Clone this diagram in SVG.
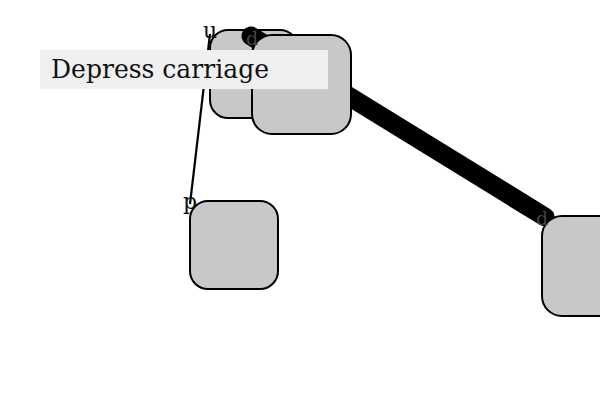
<svg xmlns="http://www.w3.org/2000/svg" width="600" height="400" viewBox="0 0 600 400">
<style>
.node{fill:#c8c8c8;stroke:#000;stroke-width:2}
.lbl{font-family:"DejaVu Serif","Liberation Serif",serif;font-size:22px;text-anchor:middle;fill:#111}
.elbl{font-family:"DejaVu Serif","Liberation Serif",serif;font-size:19px;text-anchor:middle;fill:#444}
</style>
<rect width="600" height="400" fill="#fff"/>
<g id="node-a"><rect class="node" x="210" y="30" width="88" height="88" rx="18"/></g>
<g id="connectors">
<line x1="210" y1="34" x2="190" y2="204" stroke="#000" stroke-width="2.2"/>
<line x1="251" y1="36" x2="545" y2="217" stroke="#000" stroke-width="19" stroke-linecap="round"/>
</g>
<g id="node-b"><rect class="node" x="252" y="35" width="99" height="99" rx="20"/></g>
<g id="node-c"><rect class="node" x="190" y="201" width="88" height="88" rx="18"/></g>
<g id="node-d"><rect class="node" x="542" y="216" width="100" height="100" rx="20"/></g>
<g id="labels">
<text class="lbl" x="210" y="38">u</text>
<text class="lbl" x="190" y="209">p</text>
<text class="elbl" x="252" y="45">d</text>
<text class="elbl" x="542" y="225">d</text>
</g>
<g id="tooltip">
<rect x="40" y="50" width="288" height="39" fill="#f0f0f0"/>
<text x="51" y="78" font-family="'DejaVu Serif','Liberation Serif',serif" font-size="26" textLength="218" lengthAdjust="spacingAndGlyphs" fill="#111">Depress carriage</text>
</g>
</svg>
